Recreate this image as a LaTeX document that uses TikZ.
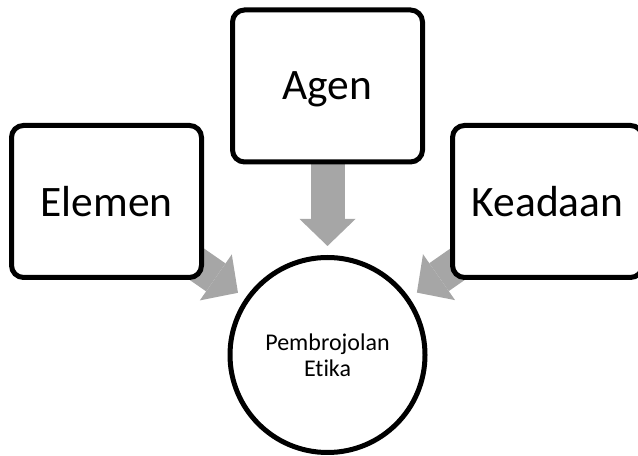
\documentclass[tikz,border=0pt]{standalone}
\usepackage{fontspec}
\setmainfont{Carlito}[Ligatures={NoCommon}]
\usetikzlibrary{positioning,arrows.meta,backgrounds}
\definecolor{arrowgray}{HTML}{A6A6A6}

\begin{document}
\begin{tikzpicture}[
    x=0.75pt, y=0.75pt,
    on grid,
    box/.style={rectangle, rounded corners=9pt, draw=black, line width=3.75pt, fill=white, minimum width=142.5pt, minimum height=114pt, text depth=0pt, font=\fontsize{32.6}{39}\selectfont},
    target/.style={circle, draw=black, line width=3.75pt, fill=white, minimum size=146.25pt, align=center, font=\fontsize{18}{19.5}\selectfont},
    flow/.style={arrowgray, line width=25.5pt, -{Triangle[length=20.25pt, width=42pt, line width=0pt]}, shorten >=6.75pt}
]
\useasboundingbox (0,0) rectangle (638,456);

% Boxes
\node[box] (agen) at (327.5,370) {Agen};
\node[box, below left=86.6pt and 165.75pt of agen] (elemen) {Elemen};
\node[box, below right=86.6pt and 165pt of agen] (keadaan) {Keadaan};
\node[target, below=201.75pt of agen] (etika) {Pembrojolan\\Etika};

% Arrows
\begin{scope}[on background layer]
\draw[flow] (elemen.center) -- (etika);
\draw[flow] (agen.center) -- (etika);
\draw[flow] (keadaan.center) -- (etika);
\end{scope}
\end{tikzpicture}
\end{document}
